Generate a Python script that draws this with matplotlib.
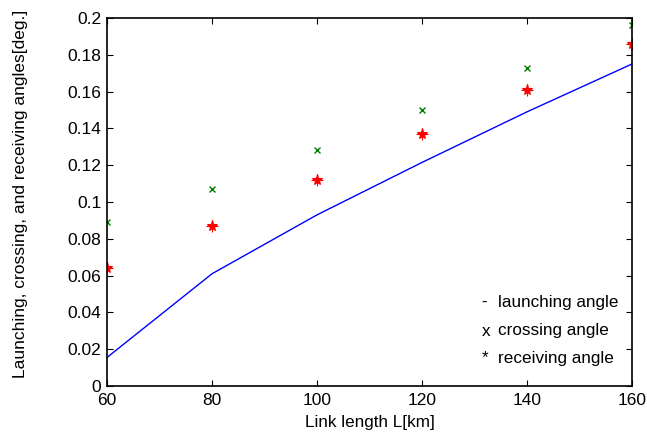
import matplotlib
matplotlib.use("Agg")
import matplotlib.pyplot as plt

L = [60, 80, 100, 120, 140, 160]
launching = [0.0155, 0.061, 0.093, 0.1215, 0.149, 0.175]
crossing = [0.089, 0.107, 0.128, 0.150, 0.173, 0.196]
receiving = [0.064, 0.087, 0.112, 0.137, 0.161, 0.186]
legend_syms = ["-", "x", "*"]
legend_labels = ["launching angle", "crossing angle", "receiving angle"]

plt.rcParams['font.family'] = ['Liberation Sans', 'DejaVu Sans']
fig = plt.figure(figsize=(6.47, 4.38), dpi=100)
ax = fig.add_axes([107/647, 1-386/438, (632-107)/647, (386-18)/438])

ax.plot(L, launching, color='#0000ff', lw=1.0)
ax.plot(L, crossing, ls='none', marker='x', color='#008000', ms=4.5, mew=1.0)
ax.plot(L, receiving, ls='none', marker='*', color='#ff0000', ms=8, mew=0.8)
ax.plot(L, receiving, ls='none', marker='+', color='#ff0000', ms=9, mew=0.8)

ax.set_xlim(60, 160)
ax.set_ylim(0, 0.2)
ax.set_xticks([60, 80, 100, 120, 140, 160])
ax.set_yticks([0, 0.02, 0.04, 0.06, 0.08, 0.1, 0.12, 0.14, 0.16, 0.18, 0.2])
ax.set_yticklabels(['0', '0.02', '0.04', '0.06', '0.08', '0.1', '0.12', '0.14', '0.16', '0.18', '0.2'])
ax.tick_params(direction='in', top=True, right=True, labelsize=12.5, length=4, width=0.8)
ax.tick_params(axis='x', pad=5)
ax.tick_params(axis='y', pad=4)
for s in ax.spines.values():
    s.set_linewidth(1.2)
ax.set_xlabel('Link length L[km]', fontsize=12.3)
ax.set_ylabel('Launching, crossing, and receiving angles[deg.]', fontsize=12.5)
ax.yaxis.set_label_coords(-0.15, 0.522)
ax.xaxis.set_label_coords(0.5, -0.08)

legend_px = [302, 331, 358]
for sym, lab, py in zip(legend_syms, legend_labels, legend_px):
    yf = (386 - py) / 368
    ax.text(0.713, yf, sym, transform=ax.transAxes, fontsize=12.3, va='center', ha='left')
    ax.text(0.745, yf, lab, transform=ax.transAxes, fontsize=12.3, va='center', ha='left')

fig.savefig('out.png', dpi=100)
